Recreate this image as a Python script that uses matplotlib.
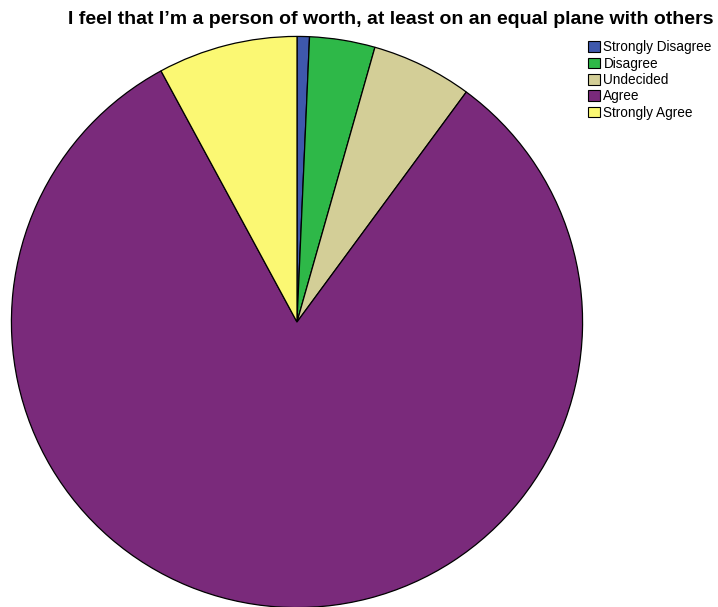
import matplotlib
matplotlib.use("Agg")
import matplotlib.pyplot as plt
from matplotlib.patches import Patch

labels = ["Strongly Disagree", "Disagree", "Undecided", "Agree", "Strongly Agree"]
percent = [0.7, 3.7, 5.7, 82.0, 7.9]
colors = ["#3E58AC", "#2EB848", "#D3CE97", "#7A2A7B", "#FBF873"]
title = "I feel that I\u2019m a person of worth, at least on an equal plane with others"

plt.rcParams['font.family'] = ['Liberation Sans', 'DejaVu Sans']

fig = plt.figure(figsize=(7.18, 6.07), dpi=100)
W, H = 718, 607
cx, cy, r = 297, 322, 287
ax = fig.add_axes([(cx - r) / W, (H - cy - r) / H, 2 * r / W, 2 * r / H])
ax.pie(percent, colors=colors, startangle=90, counterclock=False, radius=1,
       wedgeprops=dict(edgecolor="black", linewidth=0.9))
ax.set_xlim(-1.005, 1.005)
ax.set_ylim(-1.005, 1.005)
ax.set_aspect("equal")
ax.axis("off")

fig.text(714 / W, 1 - 19 / H, title, ha="right", va="center",
         fontsize=14, fontweight="bold")

handles = [Patch(facecolor=c, edgecolor="black", linewidth=0.8) for c in colors]
fig.legend(handles, labels, loc="upper left", bbox_to_anchor=(583 / W, 1 - 35 / H),
           frameon=False, fontsize=9.8, handlelength=0.85, handleheight=0.85,
           handletextpad=0.25, labelspacing=0.17, borderaxespad=0)

fig.savefig("out.png", dpi=100)
